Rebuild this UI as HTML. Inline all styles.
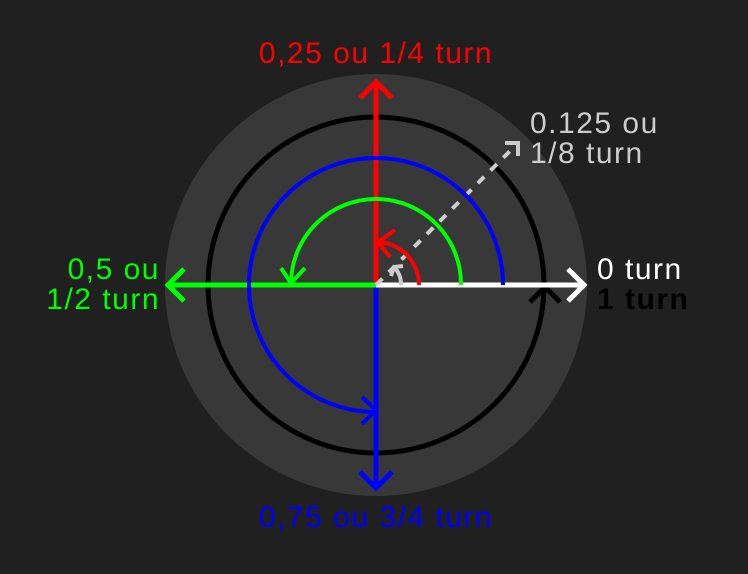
<!DOCTYPE html>
<html><head><meta charset="utf-8"><style>
html,body{margin:0;padding:0;background:#202020;}
svg{display:block;font-family:"Liberation Sans",sans-serif;}
text{font-size:30px;letter-spacing:1.5px;}
</style></head><body>
<svg width="748" height="574" viewBox="0 0 748 574">
<rect width="748" height="574" fill="#202020"/>
<circle cx="376" cy="285" r="211" fill="#383838"/>
<circle cx="376" cy="285" r="168" fill="none" stroke="#000" stroke-width="5"/>
<polyline points="530,302 545,287 560,302" fill="none" stroke="#000" stroke-width="5"/>
<line x1="376" y1="285" x2="376" y2="82" stroke="#f00" stroke-width="5"/>
<polyline points="360,98 376,82 392,98" fill="none" stroke="#f00" stroke-width="5"/>
<line x1="376" y1="285" x2="376" y2="488" stroke="#00f" stroke-width="5"/>
<polyline points="360,472 376,488 392,472" fill="none" stroke="#00f" stroke-width="5"/>
<line x1="376" y1="285" x2="168" y2="285" stroke="#0f0" stroke-width="5"/>
<polyline points="184,269 168,285 184,301" fill="none" stroke="#0f0" stroke-width="5"/>
<line x1="376" y1="285" x2="584" y2="285" stroke="#fff" stroke-width="5"/>
<polyline points="568,269 584,285 568,301" fill="none" stroke="#fff" stroke-width="5"/>
<line x1="376" y1="285" x2="518" y2="143" stroke="#ccc" stroke-width="4" stroke-dasharray="9,9"/>
<polyline points="505,143 518,143 518,156" fill="none" stroke="#ccc" stroke-width="4"/>
<path d="M401,285 A25,25 0 0 0 394,267" fill="none" stroke="#ccc" stroke-width="4"/>
<polyline points="391,276 394,267 403,266" fill="none" stroke="#ccc" stroke-width="4"/>
<path d="M419,285 A43,43 0 0 0 378,242" fill="none" stroke="#f00" stroke-width="4"/>
<polyline points="395,230 378,242 390,257" fill="none" stroke="#f00" stroke-width="4"/>
<path d="M461,285 A85,85 0 0 0 291,283" fill="none" stroke="#0f0" stroke-width="4"/>
<polyline points="281,268 291,283 305,268" fill="none" stroke="#0f0" stroke-width="4"/>
<path d="M503,285 A127,127 0 1 0 374,412" fill="none" stroke="#00f" stroke-width="4"/>
<polyline points="362,397 376,410 362,424" fill="none" stroke="#00f" stroke-width="4"/>
<text x="376" y="63" fill="#f00" text-anchor="middle">0,25 ou 1/4 turn</text>
<text x="530" y="133" fill="#ccc">0.125 ou</text>
<text x="530" y="163" fill="#ccc">1/8 turn</text>
<text x="597" y="279" fill="#fff">0 turn</text>
<text x="597" y="309" fill="#000" font-weight="bold">1 turn</text>
<text x="160" y="279" fill="#0f0" text-anchor="end">0,5 ou</text>
<text x="160" y="309" fill="#0f0" text-anchor="end">1/2 turn</text>
<text x="376" y="527" fill="#00f" text-anchor="middle">0,75 ou 3/4 turn</text>
</svg>
</body></html>
